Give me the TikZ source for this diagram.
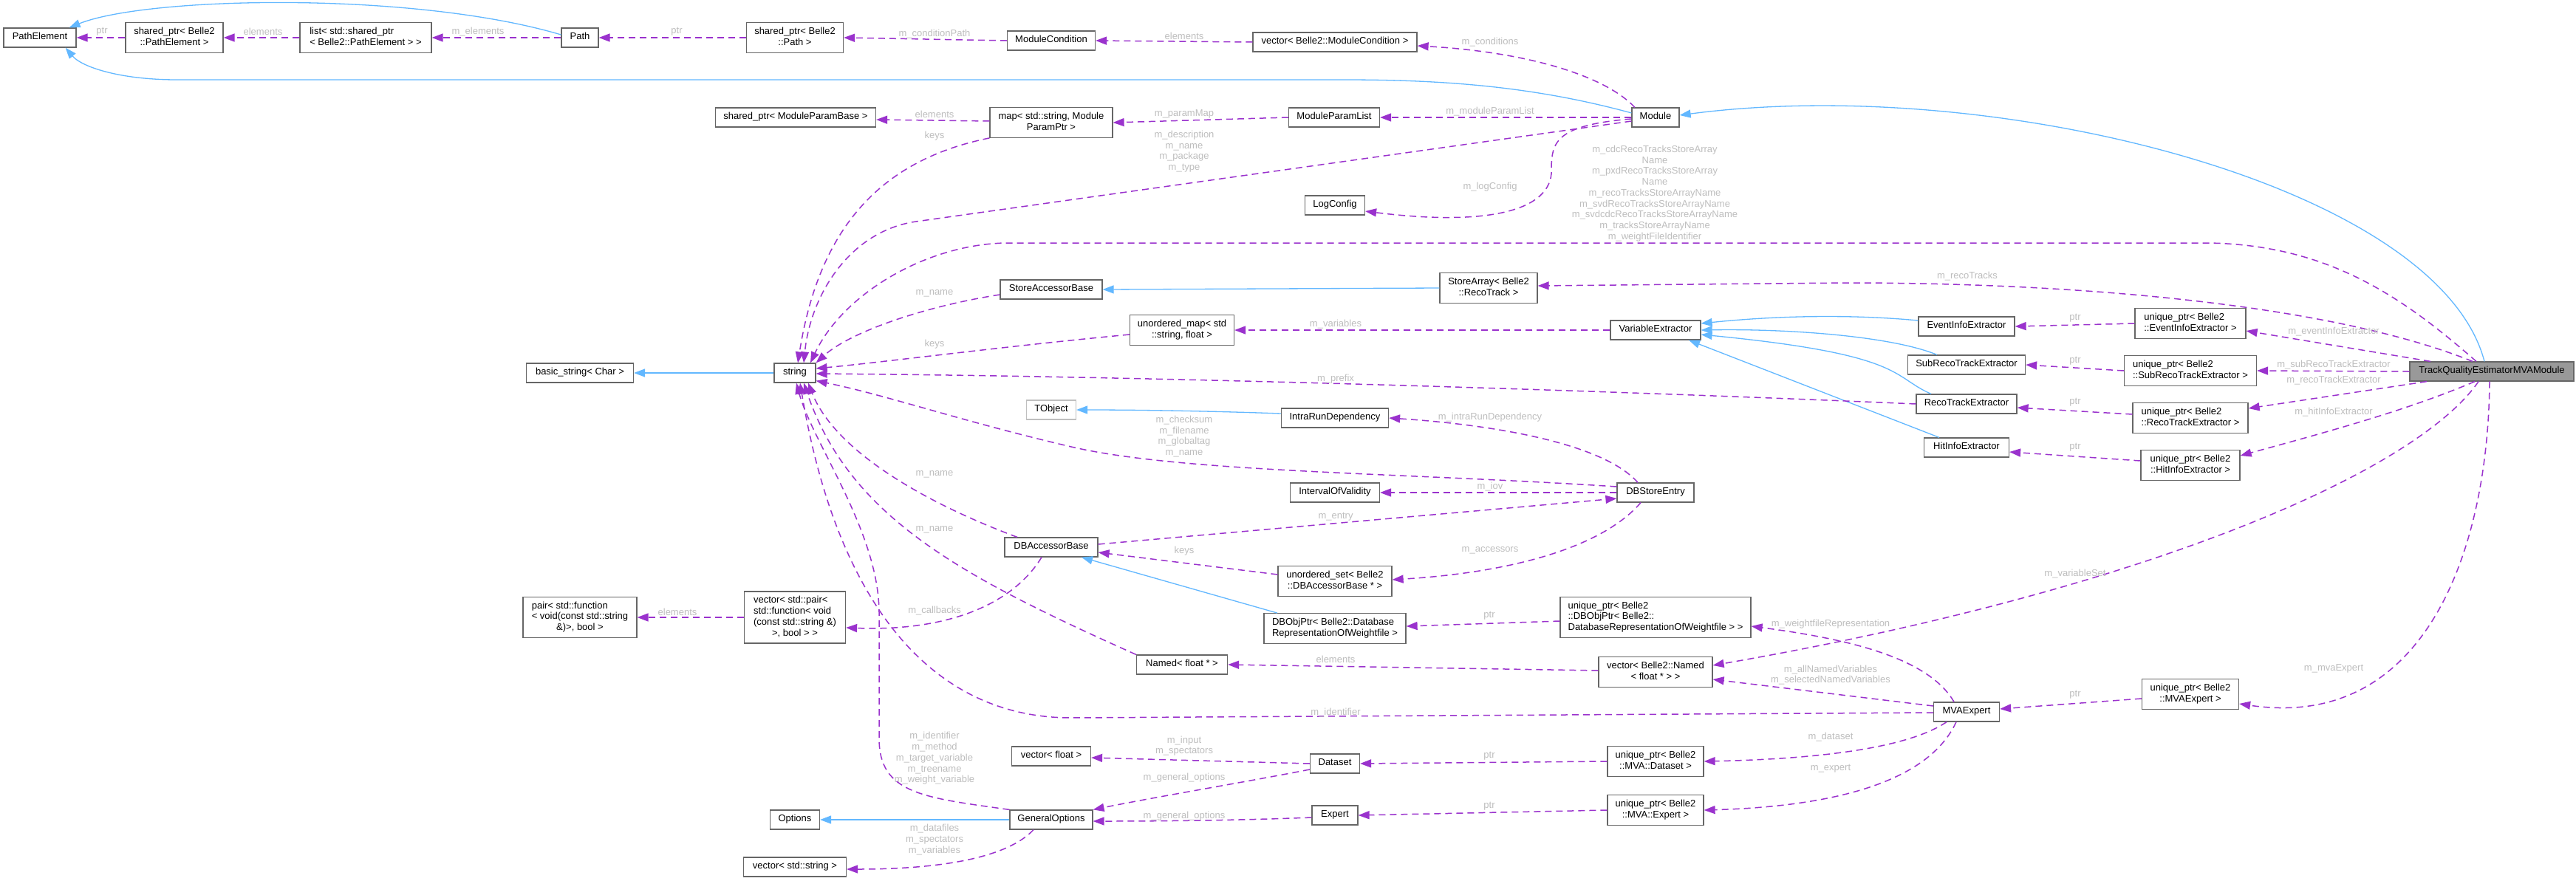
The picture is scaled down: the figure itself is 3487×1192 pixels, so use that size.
\documentclass[tikz,border=0pt]{standalone}
\usepackage{fontspec}
\setmainfont{Liberation Sans}
\usetikzlibrary{arrows.meta}
\definecolor{edgeblue}{HTML}{63B8FF}
\definecolor{edgepurple}{HTML}{9A32CD}
\definecolor{lblgray}{HTML}{BEBEBE}
\definecolor{boxborder}{HTML}{666666}
\definecolor{extborder}{HTML}{BFBFBF}
\definecolor{rootfill}{HTML}{999999}
\newcommand{\NodeA}[1]{\begin{tabular}{@{}c@{}}#1\end{tabular}}
\newcommand{\NodeB}[2]{\begin{tabular}{@{}l@{}}#1\\\multicolumn{1}{@{}c@{}}{#2}\end{tabular}}
\newcommand{\NodeC}[3]{\begin{tabular}{@{}l@{}}#1\\#2\\\multicolumn{1}{@{}c@{}}{#3}\end{tabular}}
\newcommand{\NodeD}[4]{\begin{tabular}{@{}l@{}}#1\\#2\\#3\\\multicolumn{1}{@{}c@{}}{#4}\end{tabular}}
\begin{document}
\begin{tikzpicture}[x=1pt,y=-1pt,font=\fontsize{13pt}{14.7pt}\selectfont,
  cbox/.style={draw=boxborder,line width=1.2pt,fill=white,inner xsep=6pt,inner ysep=5.6pt,minimum height=26pt,text=black},
  rootbox/.style={cbox,fill=rootfill},
  extbox/.style={cbox,draw=extborder},
  inhline/.style={draw=edgeblue,line width=1.3pt,-{Triangle[length=15pt,width=11pt]}},
  useline/.style={draw=edgepurple,line width=1.5pt,dash pattern=on 9pt off 6pt,-{Triangle[length=15pt,width=11pt]}},
  lbl/.style={text=lblgray,inner sep=0pt,align=center}]
\useasboundingbox (0,0) rectangle (3487,1192);
\fill[white] (0,0) rectangle (3487,1192);

% ---------- nodes ----------
\node[cbox,minimum width=98pt] (pe) at (54,51) {\NodeA{PathElement}};
\node[cbox,minimum width=132pt] (spe) at (236,51) {\NodeB{shared\_ptr< Belle2}{::PathElement >}};
\node[cbox,minimum width=178pt] (lst) at (495,51) {\NodeB{list< std::shared\_ptr}{< Belle2::PathElement > >}};
\node[cbox,minimum width=50pt] (path) at (785,51) {\NodeA{Path}};
\node[cbox,minimum width=131pt] (spp) at (1076,51) {\NodeB{shared\_ptr< Belle2}{::Path >}};
\node[cbox,minimum width=119pt] (mc) at (1423,55) {\NodeA{ModuleCondition}};
\node[cbox,minimum width=222pt] (vmc) at (1807,57) {\NodeA{vector< Belle2::ModuleCondition >}};
\node[cbox,minimum width=217pt] (spmpb) at (1077,159) {\NodeA{shared\_ptr< ModuleParamBase >}};
\node[cbox,minimum width=166pt] (map) at (1423,166) {\NodeB{map< std::string, Module}{ParamPtr >}};
\node[cbox,minimum width=123pt] (mpl) at (1806,159) {\NodeA{ModuleParamList}};
\node[cbox,minimum width=64pt] (mod) at (2241,159) {\NodeA{Module}};
\node[cbox,minimum width=81pt] (logc) at (1807,278) {\NodeA{LogConfig}};
\node[cbox,minimum width=138pt] (sab) at (1423,392) {\NodeA{StoreAccessorBase}};
\node[cbox,minimum width=132pt] (sa) at (2015,390) {\NodeB{StoreArray< Belle2}{::RecoTrack >}};
\node[cbox,minimum width=145pt] (bstr) at (785,505) {\NodeA{basic\_string< Char >}};
\node[cbox,minimum width=56pt] (str) at (1076,505) {\NodeA{string}};
\node[cbox,minimum width=141pt] (umap) at (1600,447) {\NodeB{unordered\_map< std}{::string, float >}};
\node[cbox,minimum width=122pt] (ve) at (2241,447) {\NodeA{VariableExtractor}};
\node[cbox,minimum width=130pt] (eie) at (2662,442) {\NodeA{EventInfoExtractor}};
\node[cbox,minimum width=150pt] (ueie) at (2965,438) {\NodeB{unique\_ptr< Belle2}{::EventInfoExtractor >}};
\node[cbox,minimum width=159pt] (sre) at (2662,494) {\NodeA{SubRecoTrackExtractor}};
\node[cbox,minimum width=179pt] (usre) at (2965,502) {\NodeB{unique\_ptr< Belle2}{::SubRecoTrackExtractor >}};
\node[cbox,minimum width=136pt] (rte) at (2662,547) {\NodeA{RecoTrackExtractor}};
\node[cbox,minimum width=156pt] (urte) at (2965,566) {\NodeB{unique\_ptr< Belle2}{::RecoTrackExtractor >}};
\node[cbox,minimum width=115pt] (hie) at (2662,606) {\NodeA{HitInfoExtractor}};
\node[cbox,minimum width=134pt] (uhie) at (2965,630) {\NodeB{unique\_ptr< Belle2}{::HitInfoExtractor >}};
\node[rootbox,minimum width=222pt] (tq) at (3373,503) {\NodeA{TrackQualityEstimatorMVAModule}};
\node[extbox,minimum width=67pt] (tobj) at (1423,555) {\NodeA{TObject}};
\node[cbox,minimum width=145pt] (ird) at (1807,566) {\NodeA{IntraRunDependency}};
\node[cbox,minimum width=121pt] (iov) at (1807,667) {\NodeA{IntervalOfValidity}};
\node[cbox,minimum width=104pt] (dbse) at (2241,667) {\NodeA{DBStoreEntry}};
\node[cbox,minimum width=126pt] (dbab) at (1423,741) {\NodeA{DBAccessorBase}};
\node[cbox,minimum width=154pt] (uset) at (1807,787) {\NodeB{unordered\_set< Belle2}{::DBAccessorBase * >}};
\node[cbox,minimum width=137pt] (vpair) at (1076,836) {\NodeD{vector< std::pair<}{std::function< void}{(const std::string \&)}{>, bool > >}};
\node[cbox,minimum width=154pt] (pair) at (785,836) {\NodeC{pair< std::function}{< void(const std::string}{\&)>, bool >}};
\node[cbox,minimum width=192pt] (dbop) at (1807,851) {\NodeB{DBObjPtr< Belle2::Database}{RepresentationOfWeightfile >}};
\node[cbox,minimum width=258pt] (udbop) at (2241,836) {\NodeC{unique\_ptr< Belle2}{::DBObjPtr< Belle2::}{DatabaseRepresentationOfWeightfile > >}};
\node[cbox,minimum width=123pt] (named) at (1600,900) {\NodeA{Named< float * >}};
\node[cbox,minimum width=154pt] (vnamed) at (2241,910) {\NodeB{vector< Belle2::Named}{< float * > >}};
\node[cbox,minimum width=89pt] (mvae) at (2662,964) {\NodeA{MVAExpert}};
\node[cbox,minimum width=131pt] (umvae) at (2965,940) {\NodeB{unique\_ptr< Belle2}{::MVAExpert >}};
\node[cbox,minimum width=107pt] (vfloat) at (1423,1024) {\NodeA{vector< float >}};
\node[cbox,minimum width=67pt] (ds) at (1807,1034) {\NodeA{Dataset}};
\node[cbox,minimum width=130pt] (uds) at (2241,1031) {\NodeB{unique\_ptr< Belle2}{::MVA::Dataset >}};
\node[cbox,minimum width=112pt] (go) at (1423,1110) {\NodeA{GeneralOptions}};
\node[cbox,minimum width=67pt] (opt) at (1076,1110) {\NodeA{Options}};
\node[cbox,minimum width=62pt] (exp) at (1807,1104) {\NodeA{Expert}};
\node[cbox,minimum width=130pt] (uexp) at (2241,1097) {\NodeB{unique\_ptr< Belle2}{::MVA::Expert >}};
\node[cbox,minimum width=139pt] (vstr) at (1076,1174) {\NodeA{vector< std::string >}};

% ---------- inheritance (blue) ----------
\draw[inhline] ([yshift=4pt]path.west) .. controls (560,-12) and (200,-5) .. ([xshift=-10pt]pe.north east);
\draw[inhline] ([yshift=6pt]mod.west) .. controls (2080,118) and (1960,108) .. (1820,108) -- (240,108) .. controls (160,108) and (110,90) .. ([xshift=-15pt]pe.south east);
\draw[inhline] ([xshift=-10pt]tq.north) .. controls (3300,250) and (2700,100) .. ([yshift=3pt]mod.east);
\draw[inhline] (str.west) -- (bstr.east);
\draw[inhline] (sa.west) -- (sab.east);
\draw[inhline] ([yshift=8pt]eie.west) .. controls (2500,425) and (2400,428) .. ([yshift=9pt]ve.east);
\draw[inhline] ([xshift=-40pt]sre.north) .. controls (2560,455) and (2420,445) .. (ve.east);
\draw[inhline] ([xshift=-48pt]rte.north) .. controls (2560,510) and (2580,480) .. ([yshift=-6pt]ve.east);
\draw[inhline] ([xshift=-37pt]hie.north) -- ([xshift=45pt]ve.south);
\draw[inhline] ([yshift=6pt]ird.west) .. controls (1650,557) and (1550,555) .. (tobj.east);
\draw[inhline] ([xshift=-78pt]dbop.north) -- ([xshift=41pt]dbab.south);
\draw[inhline] (go.west) -- (opt.east);

% ---------- usage (purple) ----------
\draw[useline] (spe.west) -- (pe.east);
\draw[useline] (lst.west) -- (spe.east);
\draw[useline] (path.west) -- (lst.east);
\draw[useline] (spp.west) -- (path.east);
\draw[useline] (mc.west) -- (spp.east);
\draw[useline] (vmc.west) -- (mc.east);
\draw[useline] ([xshift=-28pt]mod.north) .. controls (2170,100) and (2060,70) .. ([yshift=-5pt]vmc.east);
\draw[useline] ([yshift=2pt]map.west) -- ([yshift=-3pt]spmpb.east);
\draw[useline] (mpl.west) -- (map.east);
\draw[useline] (mod.west) -- (mpl.east);
\draw[useline] (map.south west) .. controls (1200,215) and (1110,300) .. ([xshift=4pt]str.north);
\draw[useline] ([yshift=-5pt]mod.west) -- (1240,300) .. controls (1150,313) and (1097,400) .. ([xshift=12pt]str.north);
\draw[useline] ([yshift=-2pt]mod.west) .. controls (2100,170) and (2100,195) .. (2100,235) .. controls (2095,290) and (2000,305) .. ([yshift=-8pt]logc.east);
\draw[useline] ([xshift=-21pt]tq.north) .. controls (3250,400) and (3150,332) .. (2990,329) -- (1360,329) .. controls (1250,332) and (1140,400) .. ([xshift=21pt]str.north);
\draw[useline] ([xshift=-26pt]tq.north) .. controls (3150,410) and (2800,383) .. (2500,383) -- ([yshift=3pt]sa.east);
\draw[useline] ([yshift=-7pt]sab.west) .. controls (1250,415) and (1150,450) .. (str.north east);
\draw[useline] ([yshift=-6pt]umap.west) .. controls (1350,470) and (1200,490) .. ([yshift=6pt]str.east);
\draw[useline] (ve.west) -- (umap.east);
\draw[useline] (rte.west) .. controls (2200,530) and (1600,510) .. ([yshift=-1pt]str.east);
\draw[useline] (ueie.west) -- (eie.east);
\draw[useline] ([xshift=-83pt]tq.north) -- ([yshift=-10pt]ueie.east);
\draw[useline] (usre.west) -- (sre.east);
\draw[useline] (tq.west) -- (usre.east);
\draw[useline] ([yshift=5pt]urte.west) -- ([yshift=-5pt]rte.east);
\draw[useline] ([xshift=-88pt]tq.south) -- ([yshift=13pt]urte.east);
\draw[useline] ([yshift=6pt]uhie.west) -- ([yshift=-6pt]hie.east);
\draw[useline] ([xshift=-23pt]tq.south) .. controls (3260,555) and (3150,585) .. ([yshift=13pt]uhie.east);
\draw[useline] ([yshift=8pt]dbse.west) .. controls (1900,640) and (1600,640) .. (1450,605) .. controls (1300,570) and (1200,535) .. ([yshift=3pt]str.south east);
\draw[useline] ([xshift=-24pt]dbse.north) .. controls (2170,600) and (2020,575) .. (ird.east);
\draw[useline] (dbse.west) -- (iov.east);
\draw[useline] ([yshift=4pt]dbab.east) -- ([yshift=-8pt]dbse.west);
\draw[useline] ([xshift=-20pt]dbse.south) .. controls (2170,740) and (2050,775) .. ([yshift=2pt]uset.east);
\draw[useline] ([yshift=9pt]uset.west) -- ([yshift=-7pt]dbab.east);
\draw[useline] ([xshift=-46pt]dbab.north) .. controls (1250,680) and (1130,610) .. ([xshift=18pt]str.south);
\draw[useline] ([xshift=-13pt]dbab.south) .. controls (1370,820) and (1280,855) .. ([yshift=-14pt]vpair.east);
\draw[useline] (vpair.west) -- (pair.east);
\draw[useline] (named.north west) .. controls (1300,780) and (1150,700) .. ([xshift=12pt]str.south);
\draw[useline] ([yshift=2pt]vnamed.west) -- (named.east);
\draw[useline] ([yshift=-5pt]udbop.west) -- ([yshift=3pt]dbop.east);
\draw[useline] ([xshift=-17pt]mvae.north) .. controls (2610,890) and (2500,865) .. ([yshift=-12pt]udbop.east);
\draw[useline] ([xshift=-18pt]tq.south) .. controls (3270,640) and (2900,800) .. ([yshift=9pt]vnamed.east);
\draw[useline] ([yshift=8pt]mvae.west) -- ([yshift=-10pt]vnamed.east);
\draw[useline] ([yshift=-1pt]mvae.west) -- (1450,972) .. controls (1250,972) and (1130,800) .. ([xshift=7pt]str.south);
\draw[useline] (go.north west) .. controls (1250,1080) and (1190,1075) .. (1190,1000) -- (1190,830) .. controls (1190,720) and (1100,600) .. ([xshift=2pt]str.south);
\draw[useline] (ds.west) -- ([yshift=-2pt]vfloat.east);
\draw[useline] ([yshift=-8pt]ds.west) .. controls (1680,1060) and (1560,1080) .. (go.north east);
\draw[useline] (uds.west) -- (ds.east);
\draw[useline] ([xshift=-27pt]mvae.south) .. controls (2580,1015) and (2450,1028) .. (uds.east);
\draw[useline] ([yshift=-3pt]exp.west) .. controls (1700,1110) and (1600,1112) .. ([yshift=-2pt]go.east);
\draw[useline] (uexp.west) -- (exp.east);
\draw[useline] ([xshift=-14pt]mvae.south) .. controls (2610,1060) and (2480,1092) .. (uexp.east);
\draw[useline] ([xshift=-24pt]go.south) .. controls (1360,1165) and (1260,1177) .. ([yshift=-3pt]vstr.east);
\draw[useline] ([yshift=-6pt]umvae.west) -- ([yshift=4pt]mvae.east);
\draw[useline] ([xshift=-3pt]tq.south) .. controls (3368,750) and (3280,990) .. ([yshift=-13pt]umvae.east);

% ---------- labels ----------
\node[lbl] (l13) at (138,43) {ptr};
\node[lbl] (l14) at (356,43) {elements};
\node[lbl] (l15) at (647,43) {m\_elements};
\node[lbl] (l16) at (916,43) {ptr};
\node[lbl] (l17) at (1265,46) {m\_conditionPath};
\node[lbl] (l18) at (1603,49) {elements};
\node[lbl] (l19) at (2017,57) {m\_conditions};
\node[lbl] (l20) at (1265,155) {elements};
\node[lbl] (l21) at (1603,154) {m\_paramMap};
\node[lbl] (l22) at (2017,151) {m\_moduleParamList};
\node[lbl] (l23) at (1265,184) {keys};
\node[lbl] (l24) at (1603,205) {m\_description\\m\_name\\m\_package\\m\_type};
\node[lbl] (l25) at (2017,253) {m\_logConfig};
\node[lbl] (l26) at (2240,262) {m\_cdcRecoTracksStoreArray\\Name\\m\_pxdRecoTracksStoreArray\\Name\\m\_recoTracksStoreArrayName\\m\_svdRecoTracksStoreArrayName\\m\_svdcdcRecoTracksStoreArrayName\\m\_tracksStoreArrayName\\m\_weightFileIdentifier};
\node[lbl] (l27) at (2663,374) {m\_recoTracks};
\node[lbl] (l28) at (1265,397) {m\_name};
\node[lbl] (l29) at (1265,466) {keys};
\node[lbl] (l30) at (1808,439) {m\_variables};
\node[lbl] (l31) at (1808,513) {m\_prefix};
\node[lbl] (l32) at (2809,431) {ptr};
\node[lbl] (l33) at (3159,449) {m\_eventInfoExtractor};
\node[lbl] (l34) at (2809,489) {ptr};
\node[lbl] (l35) at (3159,494) {m\_subRecoTrackExtractor};
\node[lbl] (l36) at (2809,545) {ptr};
\node[lbl] (l37) at (3159,515) {m\_recoTrackExtractor};
\node[lbl] (l38) at (2809,606) {ptr};
\node[lbl] (l39) at (3159,558) {m\_hitInfoExtractor};
\node[lbl] (l40) at (1603,591) {m\_checksum\\m\_filename\\m\_globaltag\\m\_name};
\node[lbl] (l41) at (2017,565) {m\_intraRunDependency};
\node[lbl] (l42) at (2017,659) {m\_iov};
\node[lbl] (l43) at (1808,700) {m\_entry};
\node[lbl] (l44) at (2017,745) {m\_accessors};
\node[lbl] (l45) at (1603,746) {keys};
\node[lbl] (l46) at (1265,642) {m\_name};
\node[lbl] (l47) at (1265,827) {m\_callbacks};
\node[lbl] (l48) at (917,829) {elements};
\node[lbl] (l49) at (1265,717) {m\_name};
\node[lbl] (l50) at (1808,893) {elements};
\node[lbl] (l51) at (2016,834) {ptr};
\node[lbl] (l52) at (2478,845) {m\_weightfileRepresentation};
\node[lbl] (l53) at (2809,777) {m\_variableSet};
\node[lbl] (l54) at (2478,914) {m\_allNamedVariables\\m\_selectedNamedVariables};
\node[lbl] (l55) at (1808,965) {m\_identifier};
\node[lbl] (l56) at (1265,1027) {m\_identifier\\m\_method\\m\_target\_variable\\m\_treename\\m\_weight\_variable};
\node[lbl] (l57) at (1603,1010) {m\_input\\m\_spectators};
\node[lbl] (l58) at (1603,1053) {m\_general\_options};
\node[lbl] (l59) at (2016,1024) {ptr};
\node[lbl] (l60) at (2478,998) {m\_dataset};
\node[lbl] (l61) at (1603,1105) {m\_general\_options};
\node[lbl] (l62) at (2016,1092) {ptr};
\node[lbl] (l63) at (2478,1041) {m\_expert};
\node[lbl] (l64) at (1265,1137) {m\_datafiles\\m\_spectators\\m\_variables};
\node[lbl] (l65) at (2809,941) {ptr};
\node[lbl] (l66) at (3159,905) {m\_mvaExpert};
\end{tikzpicture}
\end{document}
